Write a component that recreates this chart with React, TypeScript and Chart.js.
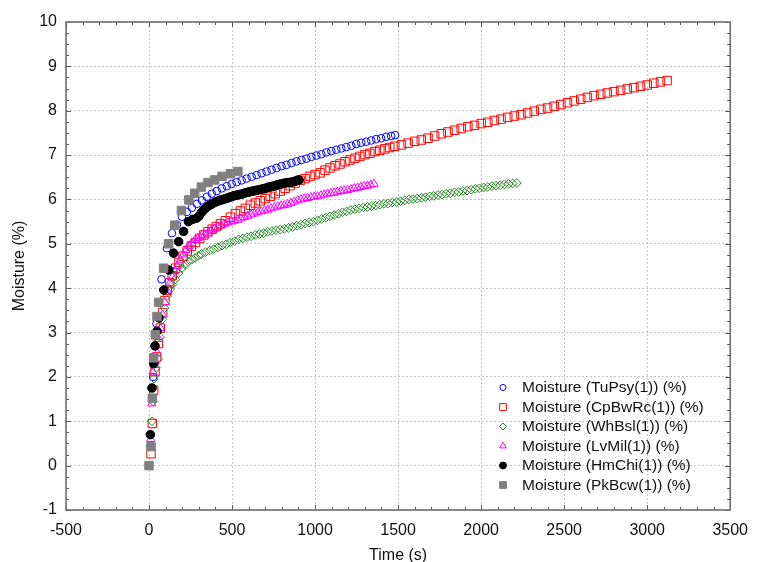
import React, { useEffect, useRef } from "react";
import { Chart, registerables } from "chart.js";

Chart.register(...registerables);

const FONT = "'Liberation Sans', Arial, Helvetica, sans-serif";

const X_TICKS = [-500, 0, 500, 1000, 1500, 2000, 2500, 3000, 3500];
const Y_TICKS = [-1, 0, 1, 2, 3, 4, 5, 6, 7, 8, 9, 10];
const X_TITLE = "Time (s)";
const Y_TITLE = "Moisture (%)";

const LABELS = [
  "Moisture (TuPsy(1)) (%)",
  "Moisture (CpBwRc(1)) (%)",
  "Moisture (WhBsl(1)) (%)",
  "Moisture (LvMil(1)) (%)",
  "Moisture (HmChi(1)) (%)",
  "Moisture (PkBcw(1)) (%)",
];

// [time (s), moisture (%)]
const TUPSY: number[][] = [
  [10, 0.43], [25, 2.0], [45, 3.2], [75, 4.2], [108, 4.9], [138, 5.24], [168, 5.43], [198, 5.61],
  [228, 5.72], [258, 5.81], [288, 5.9], [318, 5.98], [348, 6.06], [378, 6.13], [408, 6.19],
  [438, 6.25], [468, 6.3], [498, 6.35], [528, 6.39], [558, 6.43], [588, 6.47], [618, 6.51],
  [648, 6.55], [678, 6.59], [708, 6.63], [738, 6.67], [768, 6.71], [798, 6.75], [828, 6.78],
  [858, 6.82], [888, 6.86], [918, 6.89], [948, 6.92], [978, 6.96], [1008, 6.99], [1038, 7.02],
  [1068, 7.06], [1098, 7.09], [1128, 7.12], [1158, 7.15], [1188, 7.18], [1218, 7.21],
  [1248, 7.25], [1278, 7.28], [1308, 7.3], [1338, 7.33], [1368, 7.36], [1398, 7.38],
  [1428, 7.41], [1458, 7.43], [1482, 7.45],
];

const CPBWRC: number[][] = [
  [12, 0.27], [20, 0.95], [28, 1.7], [36, 2.12], [46, 2.45], [56, 2.75], [68, 3.1], [82, 3.45],
  [96, 3.72], [110, 3.95], [125, 4.12], [140, 4.28], [160, 4.45], [180, 4.58], [205, 4.72],
  [230, 4.84], [255, 4.95], [280, 5.03], [305, 5.12], [330, 5.2], [355, 5.27], [380, 5.33],
  [405, 5.39], [430, 5.45], [460, 5.52], [490, 5.6], [520, 5.68], [550, 5.74], [580, 5.8],
  [610, 5.87], [640, 5.92], [670, 5.97], [700, 6.02], [730, 6.07], [760, 6.13], [790, 6.19],
  [820, 6.25], [850, 6.31], [880, 6.37], [910, 6.43], [940, 6.47], [970, 6.52], [1000, 6.56],
  [1030, 6.6], [1060, 6.66], [1090, 6.71], [1120, 6.76], [1150, 6.8], [1180, 6.85],
  [1210, 6.89], [1240, 6.93], [1270, 6.97], [1300, 7.01], [1330, 7.04], [1360, 7.08],
  [1390, 7.11], [1420, 7.14], [1450, 7.17], [1480, 7.2], [1520, 7.23], [1560, 7.27],
  [1600, 7.31], [1640, 7.34], [1680, 7.38], [1720, 7.43], [1760, 7.48], [1800, 7.52],
  [1840, 7.56], [1880, 7.6], [1920, 7.64], [1960, 7.67], [2000, 7.71], [2040, 7.74],
  [2080, 7.78], [2120, 7.81], [2160, 7.85], [2200, 7.88], [2240, 7.91], [2280, 7.95],
  [2320, 7.99], [2360, 8.03], [2400, 8.06], [2440, 8.1], [2480, 8.14], [2520, 8.18],
  [2560, 8.22], [2600, 8.26], [2640, 8.3], [2680, 8.34], [2720, 8.37], [2760, 8.4],
  [2800, 8.43], [2840, 8.46], [2880, 8.49], [2920, 8.52], [2960, 8.55], [3000, 8.58],
  [3040, 8.62], [3080, 8.65], [3120, 8.68],
];

const WHBSL: number[][] = [
  [10, 0.45], [18, 1.0], [24, 1.45], [30, 1.96], [42, 2.2], [55, 2.4], [66, 2.9], [80, 3.3],
  [93, 3.55], [108, 3.82], [125, 3.97], [140, 4.08], [158, 4.2], [178, 4.34], [198, 4.45],
  [218, 4.53], [237, 4.6], [257, 4.64], [277, 4.68], [297, 4.73], [316, 4.77], [340, 4.81],
  [366, 4.85], [390, 4.88], [415, 4.92], [440, 4.96], [465, 4.99], [490, 5.03], [515, 5.06],
  [540, 5.1], [565, 5.12], [590, 5.15], [615, 5.17], [640, 5.2], [665, 5.22], [690, 5.24],
  [715, 5.27], [740, 5.29], [765, 5.31], [790, 5.32], [815, 5.34], [840, 5.36], [865, 5.38],
  [890, 5.41], [915, 5.43], [940, 5.46], [965, 5.48], [990, 5.5], [1015, 5.53], [1040, 5.56],
  [1065, 5.59], [1090, 5.62], [1115, 5.65], [1140, 5.68], [1165, 5.71], [1190, 5.73],
  [1215, 5.76], [1240, 5.78], [1265, 5.8], [1290, 5.82], [1315, 5.83], [1340, 5.85],
  [1365, 5.86], [1390, 5.88], [1415, 5.9], [1440, 5.91], [1465, 5.93], [1490, 5.94],
  [1515, 5.96], [1540, 5.98], [1565, 6.0], [1590, 6.01], [1615, 6.02], [1640, 6.04],
  [1665, 6.05], [1690, 6.07], [1715, 6.08], [1740, 6.1], [1765, 6.11], [1790, 6.13],
  [1815, 6.14], [1840, 6.16], [1865, 6.17], [1890, 6.19], [1915, 6.2], [1940, 6.22],
  [1965, 6.24], [1990, 6.25], [2015, 6.27], [2040, 6.28], [2065, 6.3], [2090, 6.31],
  [2115, 6.32], [2140, 6.34], [2165, 6.35], [2190, 6.36], [2215, 6.37],
];

const LVMIL: number[][] = [
  [10, 0.6], [17, 1.4], [24, 2.12], [36, 2.35], [49, 2.54], [60, 2.85], [69, 3.1], [82, 3.4],
  [95, 3.68], [110, 3.95], [125, 4.12], [140, 4.25], [155, 4.38], [170, 4.5], [188, 4.64],
  [205, 4.76], [222, 4.86], [240, 4.95], [257, 5.02], [275, 5.08], [295, 5.13], [315, 5.17],
  [336, 5.2], [355, 5.25], [375, 5.3], [395, 5.34], [415, 5.38], [435, 5.42], [455, 5.45],
  [475, 5.48], [495, 5.5], [515, 5.52], [535, 5.54], [555, 5.57], [575, 5.6], [595, 5.63],
  [615, 5.66], [635, 5.68], [655, 5.71], [675, 5.73], [695, 5.75], [715, 5.77], [735, 5.8],
  [755, 5.82], [775, 5.84], [795, 5.86], [815, 5.87], [835, 5.89], [855, 5.92], [875, 5.95],
  [895, 5.98], [915, 6.0], [935, 6.02], [955, 6.03], [975, 6.05], [995, 6.06], [1015, 6.07],
  [1035, 6.09], [1055, 6.11], [1075, 6.13], [1095, 6.14], [1115, 6.15], [1135, 6.17],
  [1155, 6.19], [1175, 6.2], [1195, 6.21], [1215, 6.23], [1235, 6.25], [1255, 6.26],
  [1275, 6.28], [1295, 6.3], [1315, 6.31], [1335, 6.33], [1355, 6.35],
];

const HMCHI: number[][] = [
  [8, 0.7], [18, 1.75], [28, 2.3], [36, 2.7], [48, 3.03], [60, 3.33], [89, 3.96], [119, 4.41],
  [148, 4.79], [178, 5.05], [208, 5.28], [237, 5.5], [262, 5.55], [287, 5.58], [300, 5.62],
  [315, 5.7], [328, 5.76], [340, 5.8], [352, 5.84], [364, 5.87], [376, 5.89], [388, 5.92],
  [400, 5.94], [412, 5.96], [424, 5.98], [436, 5.99], [448, 6.0], [460, 6.02], [472, 6.03],
  [484, 6.05], [496, 6.06], [508, 6.08], [520, 6.09], [532, 6.1], [544, 6.11], [556, 6.12],
  [568, 6.13], [580, 6.15], [592, 6.16], [604, 6.17], [616, 6.18], [628, 6.19], [640, 6.2],
  [652, 6.21], [664, 6.22], [676, 6.23], [688, 6.24], [700, 6.25], [712, 6.27], [724, 6.28],
  [736, 6.29], [748, 6.3], [760, 6.31], [772, 6.33], [784, 6.34], [796, 6.35], [808, 6.36],
  [820, 6.37], [832, 6.38], [844, 6.38], [856, 6.39], [868, 6.4], [880, 6.41], [892, 6.43],
  [904, 6.44],
];

const PKBCW: number[][] = [
  [0, 0], [12, 0.43], [20, 1.52], [28, 2.43], [38, 2.95], [48, 3.36], [58, 3.68], [88, 4.45],
  [118, 5.0], [155, 5.42], [195, 5.75], [240, 5.99], [275, 6.14], [315, 6.28], [355, 6.38],
  [395, 6.44], [440, 6.52], [490, 6.58], [535, 6.63],
];

const SERIES_DATA = [TUPSY, CPBWRC, WHBSL, LVMIL, HMCHI, PKBCW];

const SERIES_STYLE = [
  { shape: "circle", r: 3.8, color: "#0000ff", filled: false },
  { shape: "rect", r: 6.0, color: "#ff0000", filled: false },
  { shape: "rectRot", r: 4.4, color: "#1e8c1e", filled: false },
  { shape: "triangle", r: 4.8, color: "#ff00ff", filled: false },
  { shape: "circle", r: 4.3, color: "#000000", filled: true },
  { shape: "rect", r: 6.0, color: "#808080", filled: true },
];

function drawMarker(
  ctx: CanvasRenderingContext2D,
  shape: string,
  x: number,
  y: number,
  r: number,
  color: string,
  filled: boolean
) {
  ctx.save();
  ctx.beginPath();
  if (shape === "circle") {
    ctx.arc(x, y, r, 0, Math.PI * 2);
  } else if (shape === "rect") {
    const s = Math.SQRT1_2 * r;
    ctx.rect(x - s, y - s, 2 * s, 2 * s);
  } else if (shape === "rectRot") {
    ctx.moveTo(x, y - r);
    ctx.lineTo(x + r, y);
    ctx.lineTo(x, y + r);
    ctx.lineTo(x - r, y);
    ctx.closePath();
  } else if (shape === "triangle") {
    const a = (2 * Math.PI) / 3;
    ctx.moveTo(x, y - r);
    ctx.lineTo(x + Math.sin(a) * r, y - Math.cos(a) * r);
    ctx.lineTo(x + Math.sin(2 * a) * r, y - Math.cos(2 * a) * r);
    ctx.closePath();
  }
  ctx.lineWidth = 1;
  ctx.strokeStyle = color;
  if (filled) {
    ctx.fillStyle = color;
    ctx.fill();
  }
  ctx.stroke();
  ctx.restore();
}

const framePlugin = {
  id: "frameAndLegend",
  afterDatasetsDraw(chart: any) {
    const { ctx, chartArea, scales } = chart;
    const { left, right, top, bottom } = chartArea;
    const xs = scales.x;
    const ys = scales.y;
    ctx.save();
    ctx.strokeStyle = "#555555";
    ctx.lineWidth = 1;
    // minor / major ticks on all four sides, pointing inward
    for (let v = -500; v <= 3500; v += 100) {
      const px = Math.round(xs.getPixelForValue(v)) + 0.5;
      const len = v % 500 === 0 ? 5 : 3;
      ctx.beginPath();
      ctx.moveTo(px, bottom);
      ctx.lineTo(px, bottom - len);
      ctx.moveTo(px, top);
      ctx.lineTo(px, top + len);
      ctx.stroke();
    }
    for (let i = -4; i <= 40; i++) {
      const v = i / 4;
      const py = Math.round(ys.getPixelForValue(v)) + 0.5;
      const len = i % 4 === 0 ? 5 : 3;
      ctx.beginPath();
      ctx.moveTo(left, py);
      ctx.lineTo(left + len, py);
      ctx.moveTo(right, py);
      ctx.lineTo(right - len, py);
      ctx.stroke();
    }
    // frame
    ctx.strokeStyle = "#707070";
    ctx.lineWidth = 1.6;
    ctx.strokeRect(left, top, right - left, bottom - top);

    // legend
    const mx = 503;
    const tx = 522;
    const y0 = 387.5;
    const step = 19.5;
    ctx.font = `15.5px ${FONT}`;
    ctx.textBaseline = "middle";
    ctx.textAlign = "left";
    LABELS.forEach((label, i) => {
      const st = SERIES_STYLE[i];
      const y = y0 + i * step;
      drawMarker(ctx, st.shape, mx, y, st.r * 0.8, st.color, st.filled);
      ctx.fillStyle = "#111111";
      ctx.fillText(label, tx, y + 0.5);
    });
    ctx.restore();
  },
};

export default function App() {
  const canvasRef = useRef<HTMLCanvasElement | null>(null);

  useEffect(() => {
    const canvas = canvasRef.current;
    if (!canvas) return;
    const datasets = SERIES_DATA.map((arr, i) => {
      const st = SERIES_STYLE[i];
      return {
        label: LABELS[i],
        data: arr.map(([x, y]) => ({ x, y })),
        pointStyle: st.shape,
        pointRadius: st.r,
        pointHoverRadius: st.r,
        pointBorderWidth: 1,
        pointBorderColor: st.color,
        pointBackgroundColor: st.filled ? st.color : "rgba(0,0,0,0)",
        showLine: false,
        order: SERIES_DATA.length - i,
      };
    });

    const tickFont = { family: FONT, size: 16 };
    const chart = new Chart(canvas, {
      type: "scatter",
      data: { datasets } as any,
      options: {
        responsive: false,
        animation: false,
        devicePixelRatio: 1,
        layout: { padding: { top: 22, right: 19, left: 0, bottom: 0 } },
        plugins: {
          legend: { display: false },
          tooltip: { enabled: false },
        },
        scales: {
          x: {
            type: "linear",
            min: -500,
            max: 3500,
            afterBuildTicks: (s: any) => {
              s.ticks = X_TICKS.map((value) => ({ value }));
            },
            afterFit: (s: any) => {
              s.height = 52;
            },
            ticks: {
              font: tickFont,
              color: "#111111",
              padding: 11,
              maxRotation: 0,
              autoSkip: false,
              callback: (v: any) => String(v),
            },
            grid: { color: "#c4c4c4", lineWidth: 1, drawTicks: false },
            border: { display: false, dash: [2, 2] },
            title: {
              display: true,
              text: X_TITLE,
              color: "#111111",
              font: { family: FONT, size: 16 },
              padding: { top: 0, bottom: -3 },
            },
          },
          y: {
            type: "linear",
            min: -1,
            max: 10,
            afterBuildTicks: (s: any) => {
              s.ticks = Y_TICKS.map((value) => ({ value }));
            },
            afterFit: (s: any) => {
              s.width = 66;
            },
            ticks: {
              font: tickFont,
              color: "#111111",
              padding: 9,
              autoSkip: false,
              callback: (v: any) => String(v),
            },
            grid: { color: "#c4c4c4", lineWidth: 1, drawTicks: false },
            border: { display: false, dash: [2, 2] },
            title: {
              display: true,
              text: Y_TITLE,
              color: "#111111",
              font: { family: FONT, size: 16 },
              padding: { top: 10, bottom: 0 },
            },
          },
        },
      } as any,
      plugins: [framePlugin],
    });
    return () => chart.destroy();
  }, []);

  return (
    <div style={{ position: "absolute", left: 0, top: 0, width: 759, height: 562, background: "#fff" }}>
      <canvas ref={canvasRef} width={759} height={562} style={{ display: "block" }} />
    </div>
  );
}
